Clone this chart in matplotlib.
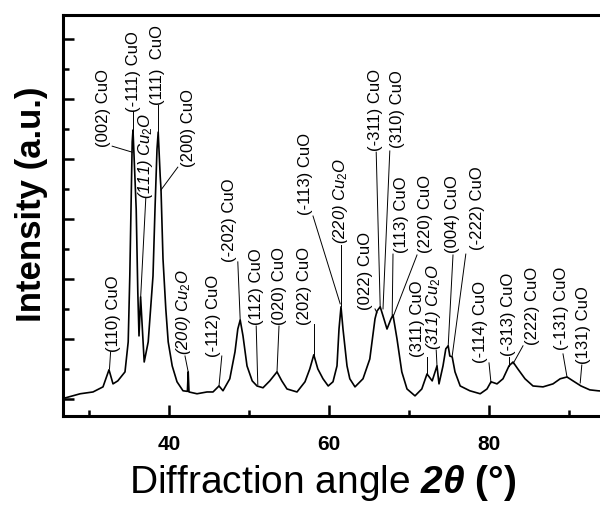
import numpy as np
import matplotlib
matplotlib.use("Agg")
import matplotlib.pyplot as plt

# XRD pattern (2theta in degrees, intensity in a.u.)
two_theta = [27.0, 28.9, 30.5, 31.75, 32.5, 33.0, 33.6, 34.5, 34.9, 35.1,
             35.25, 35.4, 35.5, 35.9, 36.1, 36.25, 36.45, 36.9, 37.4, 38.0,
             38.25, 38.5, 38.65, 38.9, 39.0, 39.25, 39.6, 39.9, 40.4, 41.0,
             41.75, 42.3, 42.4, 42.5, 43.5, 44.75, 45.5, 46.25, 46.75, 47.6,
             48.25, 48.6, 48.9, 49.25, 49.75, 50.4, 51.0, 51.75, 52.6, 53.5,
             54.1, 54.75, 56.0, 57.0, 57.6, 58.1, 58.6, 59.25, 59.9, 60.5,
             61.0, 61.25, 61.5, 61.75, 62.25, 62.6, 63.25, 64.25, 65.1, 65.75,
             66.0, 66.4, 66.75, 67.25, 67.75, 68.0, 68.5, 69.1, 69.75, 70.75,
             71.6, 72.25, 72.9, 73.5, 73.75, 74.25, 74.6, 74.9, 75.1, 75.4,
             75.75, 76.4, 77.6, 78.9, 79.75, 80.25, 81.0, 81.75, 82.5, 83.0,
             83.6, 84.5, 85.5, 86.75, 88.0, 88.9, 89.75, 90.5, 91.5, 92.6,
             93.6, 94.5]
intensity = [3, 17, 23, 40, 97, 50, 60, 90, 190, 410,
             633, 857, 897, 633, 357, 210, 340, 123, 190, 410,
             633, 833, 890, 743, 700, 467, 300, 190, 110, 57,
             27, 25, 90, 23, 17, 23, 23, 43, 27, 67,
             157, 233, 263, 210, 110, 60, 43, 37, 60, 90,
             60, 33, 23, 57, 100, 147, 100, 67, 43, 57,
             110, 233, 307, 233, 110, 67, 40, 67, 133, 267,
             293, 307, 277, 233, 267, 280, 200, 90, 33, 10,
             33, 83, 60, 110, 50, 110, 167, 177, 143, 140,
             90, 43, 27, 17, 33, 57, 50, 67, 110, 123,
             100, 67, 43, 40, 50, 67, 73, 60, 43, 30,
             27, 25]

# peak labels: text, italic, text x, text bottom y, leader start x/y, leader end x/y
peak_labels = [
    ("(002) CuO", False, 31.75, 843, 32.9, 843, 35.4, 823),
    ("(-111) CuO", False, 35.5, 962, 35.54, 962, 35.54, 897),
    ("(111) Cu$_2$O", True, 37.1, 670, 37.1, 670, 36.46, 340),
    ("(111)  CuO", False, 38.6, 985, 38.65, 980, 38.65, 890),
    ("(200) CuO", False, 42.4, 777, 41.1, 773, 39.0, 697),
    ("(110) CuO", False, 33.0, 160, 32.7, 157, 32.56, 100),
    ("(200) Cu$_2$O", True, 41.75, 150, 42.0, 143, 42.4, 90),
    ("(-112) CuO", False, 45.5, 143, 46.6, 143, 46.25, 43),
    ("(-202) CuO", False, 47.6, 460, 48.6, 457, 48.9, 263),
    ("(112) CuO", False, 50.9, 250, 50.9, 243, 51.1, 47),
    ("(020) CuO", False, 53.75, 250, 53.75, 243, 53.5, 90),
    ("(202) CuO", False, 56.9, 250, 58.1, 250, 58.1, 147),
    ("(-113) CuO", False, 57.1, 617, 58.0, 610, 61.4, 317),
    ("(220) Cu$_2$O", True, 61.4, 520, 61.5, 513, 61.5, 310),
    ("(022) CuO", False, 64.6, 300, 65.75, 300, 66.0, 287),
    ("(-311) CuO", False, 65.75, 830, 65.9, 823, 66.4, 307),
    ("(310) CuO", False, 68.6, 840, 67.6, 827, 66.75, 300),
    ("(113) CuO", False, 69.1, 490, 68.0, 483, 67.9, 280),
    ("(220) CuO", False, 72.0, 490, 71.0, 480, 68.0, 273),
    ("(004) CuO", False, 75.4, 490, 75.5, 480, 74.9, 177),
    ("(-222) CuO", False, 78.5, 500, 77.1, 483, 75.4, 143),
    ("(311) CuO", False, 71.0, 143, 72.25, 140, 72.25, 83),
    ("(311) Cu$_2$O", True, 73.1, 167, 73.4, 163, 73.5, 110),
    ("(-114) CuO", False, 78.9, 123, 80.0, 120, 80.25, 53),
    ("(-313) CuO", False, 82.4, 147, 82.5, 140, 82.5, 110),
    ("(222) CuO", False, 85.4, 183, 84.25, 177, 83.0, 117),
    ("(-131) CuO", False, 89.1, 167, 89.25, 150, 89.75, 73),
    ("(131) CuO", False, 91.75, 120, 91.6, 113, 91.4, 53),
]

plt.rcParams['font.family'] = ['Liberation Sans', 'DejaVu Sans']
plt.rcParams['mathtext.fontset'] = 'custom'
plt.rcParams['mathtext.rm'] = 'Liberation Sans'
plt.rcParams['mathtext.it'] = 'Liberation Sans:italic'
plt.rcParams['mathtext.bf'] = 'Liberation Sans:bold'
plt.rcParams['mathtext.bfit'] = 'Liberation Sans:italic:bold'

fig = plt.figure(figsize=(6, 5.06), dpi=100)
ax = fig.add_axes([0.105, 0.176, 0.91, 0.792])

ax.plot(two_theta, intensity, color='black', lw=1.2)

for txt, ital, tx, ty, x0, y0, x1, y1 in peak_labels:
    ax.text(tx, ty, txt, rotation=90, ha='center', va='bottom', fontsize=12,
            style='italic' if ital else 'normal')
    ax.plot([x0, x1], [y0, y1], color='black', lw=0.7)

ax.set_xlim(26.75, 95)
ax.set_ylim(-57, 1280)

ax.set_xticks([40, 60, 80])
ax.set_xticks([30, 50, 70, 90], minor=True)
ax.set_yticks(np.arange(0, 1201, 200))
ax.set_yticks(np.arange(100, 1200, 200), minor=True)
ax.set_yticklabels([])
ax.tick_params(which='major', direction='in', length=8, width=1.8,
               labelsize=15, pad=13)
ax.tick_params(which='minor', direction='in', length=4.5, width=1.8)
for lab in ax.get_xticklabels():
    lab.set_fontweight('bold')

for sp in ax.spines.values():
    sp.set_linewidth(2.2)

ax.set_xlabel(r"Diffraction angle $\mathbfit{2\theta}\ \mathbf{(°)}$", fontsize=28)
ax.xaxis.set_label_coords(0.475, -0.115)
ax.set_ylabel("Intensity (a.u.)", fontsize=25, fontweight='bold')
ax.yaxis.set_label_coords(-0.027, 0.53)

fig.savefig("out.png", dpi=100)
